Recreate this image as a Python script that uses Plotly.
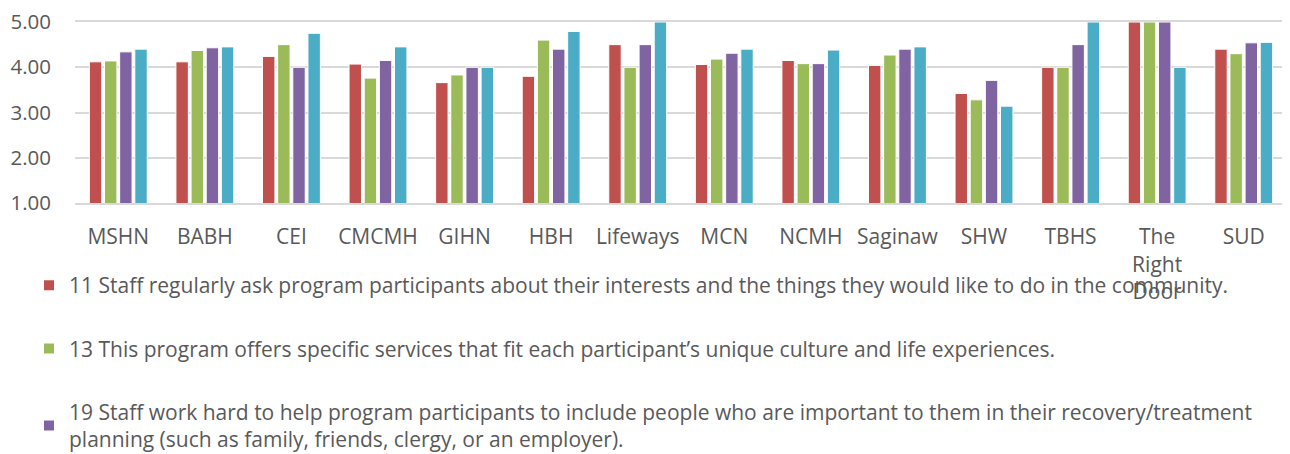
import plotly.graph_objects as go

categories = ["MSHN", "BABH", "CEI", "CMCMH", "GIHN", "HBH", "Lifeways", "MCN",
              "NCMH", "Saginaw", "SHW", "TBHS", "The Right Door", "SUD"]
tick_text = ["MSHN", "BABH", "CEI", "CMCMH", "GIHN", "HBH", "Lifeways", "MCN",
             "NCMH", "Saginaw", "SHW", "TBHS", "The<br>Right<br>Door", "SUD"]

q11 = [4.12, 4.12, 4.24, 4.07, 3.66, 3.80, 4.50, 4.06, 4.15, 4.04, 3.42, 4.00, 5.00, 4.40]
q13 = [4.14, 4.37, 4.50, 3.76, 3.83, 4.60, 4.00, 4.18, 4.08, 4.27, 3.28, 4.00, 5.00, 4.30]
q19 = [4.34, 4.43, 4.00, 4.15, 4.00, 4.40, 4.50, 4.31, 4.08, 4.40, 3.71, 4.50, 5.00, 4.54]
q4th = [4.40, 4.45, 4.75, 4.45, 4.00, 4.79, 5.00, 4.40, 4.38, 4.45, 3.14, 5.00, 4.00, 4.55]

series_names = [
    "11 Staff regularly ask program participants about their interests and the things they would like to do in the community.",
    "13 This program offers specific services that fit each participant\u2019s unique culture and life experiences.",
    "19 Staff work hard to help program participants to include people who are important to them in their recovery/treatment<br>planning (such as family, friends, clergy, or an employer).",
    "Series 4",
]
colors = ["#C0504D", "#9BBB59", "#8064A2", "#4BACC6"]
show_in_legend = [True, True, True, False]

FONT = "Open Sans"
TXT = "#595959"

fig = go.Figure()
for i, (vals, name, col, sl) in enumerate(zip([q11, q13, q19, q4th], series_names, colors, show_in_legend)):
    fig.add_trace(go.Bar(
        x=categories, y=vals, name=name, marker_color=col,
        marker_line_color="white", marker_line_width=1,
        showlegend=sl, legendgroup=f"g{i}",
    ))

fig.update_layout(
    width=1290, height=454,
    margin=dict(l=67, r=11, t=14, b=259, autoexpand=False),
    paper_bgcolor="white", plot_bgcolor="white",
    barmode="group", bargap=0.30, bargroupgap=0.18,
    font=dict(family=FONT, size=21, color=TXT),
    legend=dict(
        orientation="v", xref="container", yref="container",
        x=21 / 1290, y=1 - 257 / 454, xanchor="left", yanchor="top",
        font=dict(family=FONT, size=21, color=TXT),
        tracegroupgap=33, itemsizing="constant",
        bgcolor="rgba(0,0,0,0)",
    ),
)
fig.update_xaxes(
    tickmode="array", tickvals=categories, ticktext=tick_text,
    showline=True, mirror=True, linecolor="#D9D9D9", linewidth=2,
    showgrid=False, ticks="", ticklabelstandoff=14,
    tickfont=dict(family=FONT, size=21, color=TXT),
)
fig.update_yaxes(
    range=[1, 5], tickvals=[1, 2, 3, 4, 5], tickformat=".2f",
    showgrid=True, gridcolor="#D9D9D9", gridwidth=2,
    zeroline=False, showline=False, ticks="", ticklabelstandoff=23,
    ticklabeloverflow="allow",
    tickfont=dict(family=FONT, size=20.5, color=TXT),
)

fig.write_html("out.html")
